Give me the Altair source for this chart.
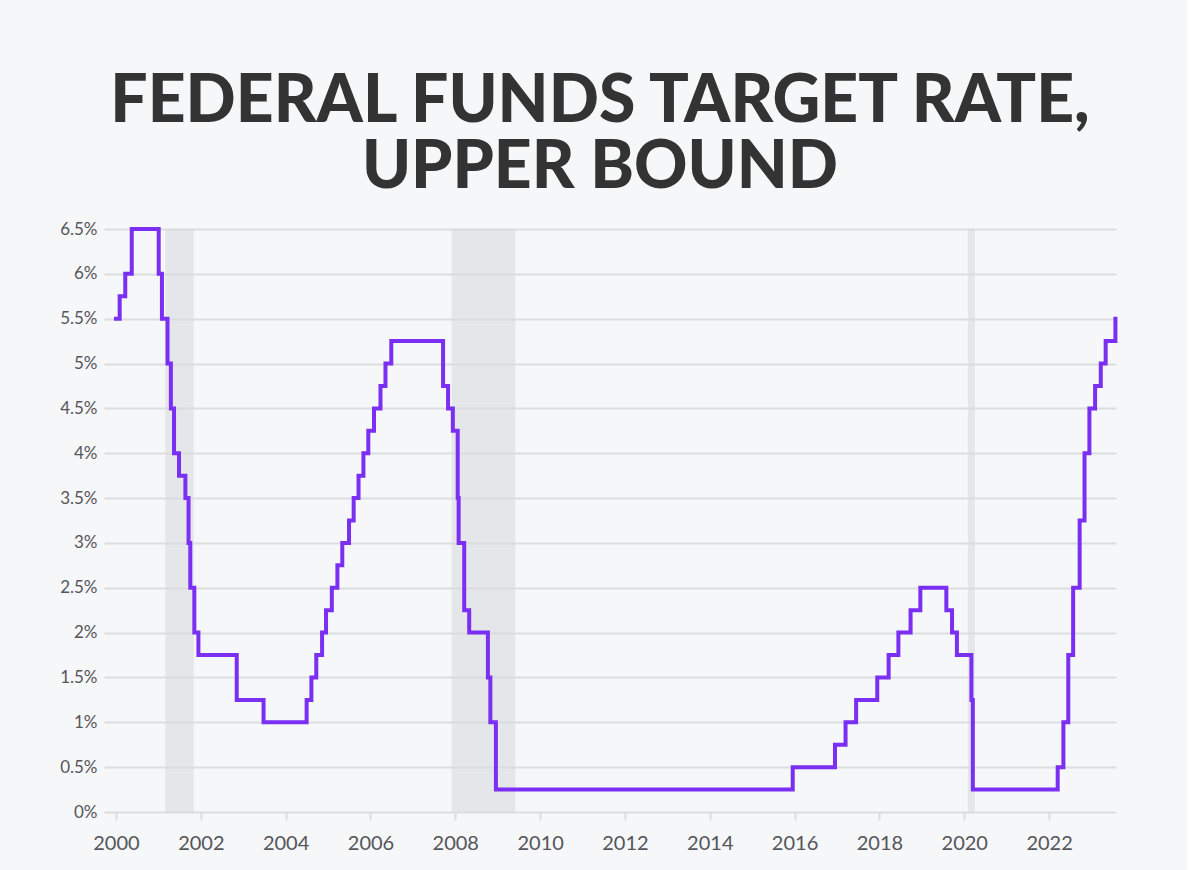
import altair as alt
import pandas as pd

# Federal funds target rate, upper bound: date of each change and the new rate (%)
change_dates = [
    "2000-01-01", "2000-02-02", "2000-03-21", "2000-05-16",
    "2001-01-03", "2001-01-31", "2001-03-20", "2001-04-18", "2001-05-15",
    "2001-06-27", "2001-08-21", "2001-09-17", "2001-10-02", "2001-11-06",
    "2001-12-11", "2002-11-06", "2003-06-25",
    "2004-06-30", "2004-08-10", "2004-09-21", "2004-11-10", "2004-12-14",
    "2005-02-02", "2005-03-22", "2005-05-03", "2005-06-30", "2005-08-09",
    "2005-09-20", "2005-11-01", "2005-12-13", "2006-01-31", "2006-03-28",
    "2006-05-10", "2006-06-29",
    "2007-09-18", "2007-10-31", "2007-12-11", "2008-01-22", "2008-01-30",
    "2008-03-18", "2008-04-30", "2008-10-08", "2008-10-29", "2008-12-16",
    "2015-12-16", "2016-12-14", "2017-03-15", "2017-06-14", "2017-12-13",
    "2018-03-21", "2018-06-13", "2018-09-26", "2018-12-19",
    "2019-07-31", "2019-09-18", "2019-10-30", "2020-03-03", "2020-03-15",
    "2022-03-16", "2022-05-04", "2022-06-15", "2022-07-27", "2022-09-21",
    "2022-11-02", "2022-12-14", "2023-02-01", "2023-03-22", "2023-05-03",
    "2023-07-26",
]
upper_bound = [
    5.50, 5.75, 6.00, 6.50,
    6.00, 5.50, 5.00, 4.50, 4.00,
    3.75, 3.50, 3.00, 2.50, 2.00,
    1.75, 1.25, 1.00,
    1.25, 1.50, 1.75, 2.00, 2.25,
    2.50, 2.75, 3.00, 3.25, 3.50,
    3.75, 4.00, 4.25, 4.50, 4.75,
    5.00, 5.25,
    4.75, 4.50, 4.25, 3.50, 3.00,
    2.25, 2.00, 1.50, 1.00, 0.25,
    0.50, 0.75, 1.00, 1.25, 1.50,
    1.75, 2.00, 2.25, 2.50,
    2.25, 2.00, 1.75, 1.25, 0.25,
    0.50, 1.00, 1.75, 2.50, 3.25,
    4.00, 4.50, 4.75, 5.00, 5.25,
    5.50,
]

# Recession periods shaded behind the line
recession_start = ["2001-03-01", "2007-12-01", "2020-02-01"]
recession_end = ["2001-11-01", "2009-06-01", "2020-04-01"]

y_ticks = [0, 0.5, 1, 1.5, 2, 2.5, 3, 3.5, 4, 4.5, 5, 5.5, 6, 6.5]
x_tick_years = list(range(2000, 2024, 2))

rates = pd.DataFrame({"date": change_dates, "rate": upper_bound})
recessions = pd.DataFrame({"start": recession_start, "end": recession_end})

PURPLE = "#7b2ff2"
GRID = "#dcdde0"
LABEL = "#55555a"
BG = "#f6f7f9"

x_scale = alt.Scale(
    type="utc",
    domain=[
        alt.DateTime(year=1999, month=9, date=20, utc=True),
        alt.DateTime(year=2023, month=7, date=31, utc=True),
    ],
)

shading = alt.Chart(recessions).mark_rect(color="#d9dadd", opacity=0.6).encode(
    x=alt.X("start:T", scale=x_scale),
    x2="end:T",
)

line = alt.Chart(rates).mark_line(
    interpolate="step-after", color=PURPLE, strokeWidth=4, strokeCap="square"
).encode(
    x=alt.X(
        "date:T",
        scale=x_scale,
        title=None,
        axis=alt.Axis(
            values=[alt.DateTime(year=y, month=1, date=1, utc=True) for y in x_tick_years],
            format="%Y",
            formatType="utc",
            grid=False,
            domain=False,
            ticks=True,
            tickSize=8,
            tickWidth=2,
            tickColor=GRID,
            labelPadding=13,
            labelFont="Lato",
            labelFontSize=20,
            labelColor=LABEL,
        ),
    ),
    y=alt.Y(
        "rate:Q",
        scale=alt.Scale(domain=[0, 6.5], nice=False),
        title=None,
        axis=alt.Axis(
            values=y_ticks,
            labelExpr="datum.value + '%'",
            grid=True,
            gridColor=GRID,
            gridWidth=2,
            domain=False,
            ticks=False,
            labelPadding=7,
            labelFont="Lato",
            labelFontSize=17,
            labelColor=LABEL,
        ),
    ),
)

chart = (
    alt.layer(shading, line)
    .properties(
        width=1012,
        height=583,
        autosize=alt.AutoSizeParams(type="none"),
        padding={"left": 104, "top": 229, "right": 71, "bottom": 58},
        background=BG,
        title=alt.TitleParams(
            text=["FEDERAL FUNDS TARGET RATE,", "UPPER BOUND"],
            font="Lato",
            fontWeight=900,
            fontSize=66,
            lineHeight=66,
            color="#333333",
            anchor="middle",
            dx=-10,
            offset=18,
        ),
    )
    .configure_view(stroke=None)
)

chart.save("out.html", embed_options={"renderer": "svg", "actions": False})
